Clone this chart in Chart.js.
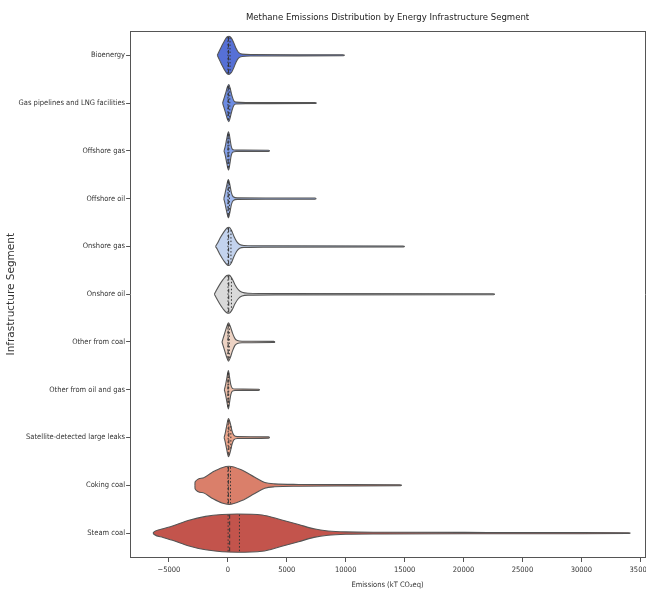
<!DOCTYPE html>
<html lang="en">
<head>
<meta charset="UTF-8">
<title>Methane Emissions Distribution by Energy Infrastructure Segment</title>
<script src="https://cdn.jsdelivr.net/npm/chart.js@4.4.0/dist/chart.umd.min.js"></script>
<style>
    body { margin: 0; background: #ffffff; overflow: hidden; }
    .wrap { width: 660px; height: 593px; position: relative; }
</style>
</head>
<body>
<div class="wrap"><canvas id="violinChart"></canvas></div>
<script>
// categories (top to bottom)
const segments = [
    'Bioenergy', 'Gas pipelines and LNG facilities', 'Offshore gas', 'Offshore oil',
    'Onshore gas', 'Onshore oil', 'Other from coal', 'Other from oil and gas',
    'Satellite-detected large leaks', 'Coking coal', 'Steam coal'
];

// violin outlines: [emissions kT CO2eq, half width as fraction of the category band]
const bioenergy = [[-900, 0], [-750, 0.08], [-550, 0.18], [-300, 0.3], [-50, 0.39], [100, 0.4], [300, 0.36], [500, 0.26], [700, 0.14], [900, 0.06], [1200, 0.025], [2000, 0.015], [6000, 0.012], [9750, 0.01], [9900, 0]];
const gasPipelines = [[-450, 0], [-350, 0.08], [-200, 0.2], [-50, 0.33], [80, 0.39], [200, 0.3], [350, 0.15], [500, 0.05], [700, 0.02], [1500, 0.012], [7400, 0.01], [7520, 0]];
const offshoreGas = [[-330, 0], [-220, 0.1], [-100, 0.25], [50, 0.4], [150, 0.3], [280, 0.1], [400, 0.03], [700, 0.015], [3450, 0.012], [3550, 0]];
const offshoreOil = [[-350, 0], [-250, 0.1], [-120, 0.25], [40, 0.4], [160, 0.3], [300, 0.12], [450, 0.04], [800, 0.015], [7400, 0.012], [7500, 0]];
const onshoreGas = [[-1050, 0], [-900, 0.06], [-650, 0.18], [-350, 0.3], [-50, 0.39], [100, 0.4], [300, 0.34], [500, 0.22], [750, 0.1], [1000, 0.04], [1400, 0.02], [3000, 0.014], [14850, 0.01], [15000, 0]];
const onshoreOil = [[-1150, 0], [-1000, 0.07], [-700, 0.2], [-400, 0.31], [-100, 0.39], [100, 0.4], [350, 0.33], [600, 0.2], [900, 0.09], [1200, 0.04], [1700, 0.02], [4000, 0.014], [22500, 0.01], [22650, 0]];
const otherCoal = [[-500, 0], [-400, 0.08], [-250, 0.2], [-100, 0.32], [50, 0.4], [200, 0.33], [400, 0.18], [600, 0.07], [800, 0.03], [1200, 0.015], [3900, 0.012], [4000, 0]];
const otherOilGas = [[-300, 0], [-200, 0.1], [-80, 0.26], [40, 0.4], [130, 0.28], [250, 0.1], [380, 0.03], [600, 0.015], [2600, 0.012], [2700, 0]];
const satelliteLeaks = [[-320, 0], [-220, 0.1], [-100, 0.25], [50, 0.4], [200, 0.3], [350, 0.14], [500, 0.05], [800, 0.02], [3450, 0.013], [3550, 0]];
const cokingCoal = [[-2800, 0], [-2790, 0.07], [-2200, 0.15], [-1350, 0.27], [-500, 0.37], [100, 0.4], [1180, 0.32], [2280, 0.17], [3130, 0.06], [3970, 0.03], [6000, 0.018], [10000, 0.014], [14600, 0.01], [14750, 0]];
const steamCoal = [[-6350, 0], [-6250, 0.03], [-5500, 0.09], [-4700, 0.15], [-3300, 0.27], [-1900, 0.35], [-500, 0.39], [800, 0.4], [2900, 0.38], [4500, 0.28], [6000, 0.18], [7300, 0.09], [8500, 0.045], [10000, 0.025], [13000, 0.018], [22000, 0.014], [30000, 0.012], [34000, 0.008], [34150, 0]];

// quartiles [q1, median, q3]
const quartiles = [
    [8, 45, 180], [5, 35, 160], [3, 20, 90], [5, 30, 130], [10, 60, 260], [12, 70, 300],
    [4, 25, 120], [2, 15, 70], [20, 80, 250], [5, 40, 220], [20, 150, 980]
];

const fills = ['#5670d6', '#6d8ce3', '#86a3ec', '#a0b9ef', '#c3d3ee', '#dadada',
    '#edd3c4', '#eebfa9', '#eca58b', '#da7f6a', '#c3544c'];

const xTicks = [-5000, 0, 5000, 10000, 15000, 20000, 25000, 30000, 35000];
const xMin = -8300;
const xMax = 35400;

const profiles = [bioenergy, gasPipelines, offshoreGas, offshoreOil, onshoreGas, onshoreOil,
    otherCoal, otherOilGas, satelliteLeaks, cokingCoal, steamCoal];

const narrow = "'DejaVu Sans Condensed', 'Liberation Sans Narrow', sans-serif";
const edge = '#555555';

function halfWidthAt(profile, v) {
    for (let k = 1; k < profile.length; k++) {
        const [v0, w0] = profile[k - 1];
        const [v1, w1] = profile[k];
        if (v >= v0 && v <= v1) {
            return w0 + (w1 - w0) * (v - v0) / (v1 - v0);
        }
    }
    return 0;
}

const datasets = [];
profiles.forEach((prof, i) => {
    datasets.push({
        data: prof.map(([v, w]) => ({ x: v, y: i - w })),
        borderColor: edge, borderWidth: 1.1, pointRadius: 0,
        fill: false, cubicInterpolationMode: 'monotone', order: 1
    });
    datasets.push({
        data: prof.map(([v, w]) => ({ x: v, y: i + w })),
        borderColor: edge, borderWidth: 1.1, pointRadius: 0,
        backgroundColor: fills[i], fill: '-1', cubicInterpolationMode: 'monotone', order: 1
    });
    quartiles[i].forEach((q, k) => {
        const w = halfWidthAt(prof, q) * 0.97;
        datasets.push({
            data: [{ x: q, y: i - w }, { x: q, y: i + w }],
            borderColor: '#333333', borderWidth: 1, pointRadius: 0, fill: false,
            borderDash: k === 1 ? [4, 2.5] : [1.5, 2], order: 0
        });
    });
});

new Chart(document.getElementById('violinChart'), {
    type: 'line',
    data: { datasets: datasets },
    options: {
        responsive: true,
        maintainAspectRatio: false,
        animation: false,
        events: [],
        layout: { padding: { left: 5, right: 7, top: 3, bottom: 1 } },
        plugins: { legend: { display: false }, tooltip: { enabled: false } },
        scales: {
            x: {
                type: 'linear', position: 'bottom', min: xMin, max: xMax,
                afterBuildTicks: (scale) => { scale.ticks = xTicks.map(v => ({ value: v })); },
                ticks: {
                    color: '#333', font: { family: narrow, size: 7.5 }, padding: 4, maxRotation: 0,
                    callback: (v) => v < 0 ? '\u2212' + Math.abs(v) : String(v)
                },
                grid: { display: true, drawOnChartArea: false, drawTicks: true, tickLength: 5, color: '#555' },
                border: { display: true, color: '#555', width: 1 },
                title: { display: true, text: 'Emissions (kT CO\u2082eq)', color: '#333', font: { family: narrow, size: 7.5 }, padding: { top: 2, bottom: 2 } }
            },
            x2: {
                type: 'linear', position: 'top', min: xMin, max: xMax,
                ticks: { display: false }, grid: { display: false },
                border: { display: true, color: '#555', width: 1 },
                title: { display: true, text: 'Methane Emissions Distribution by Energy Infrastructure Segment', color: '#222', font: { family: narrow, size: 9.5 }, padding: { top: 9, bottom: 0 } }
            },
            y: {
                type: 'linear', position: 'left', min: -0.5, max: 10.5, reverse: true,
                afterBuildTicks: (scale) => { scale.ticks = segments.map((s, i) => ({ value: i })); },
                ticks: {
                    color: '#333', font: { family: narrow, size: 7.5 }, padding: 1,
                    callback: (v) => segments[v]
                },
                grid: { display: true, drawOnChartArea: false, drawTicks: true, tickLength: 4, color: '#555' },
                border: { display: true, color: '#555', width: 1 },
                title: { display: true, text: 'Infrastructure Segment', color: '#333', font: { family: "'DejaVu Sans', sans-serif", size: 10.5 }, padding: { top: 0, bottom: 0 } }
            },
            y2: {
                type: 'linear', position: 'right', min: -0.5, max: 10.5,
                ticks: { display: false }, grid: { display: false },
                border: { display: true, color: '#555', width: 1 }
            }
        }
    }
});
</script>
</body>
</html>
